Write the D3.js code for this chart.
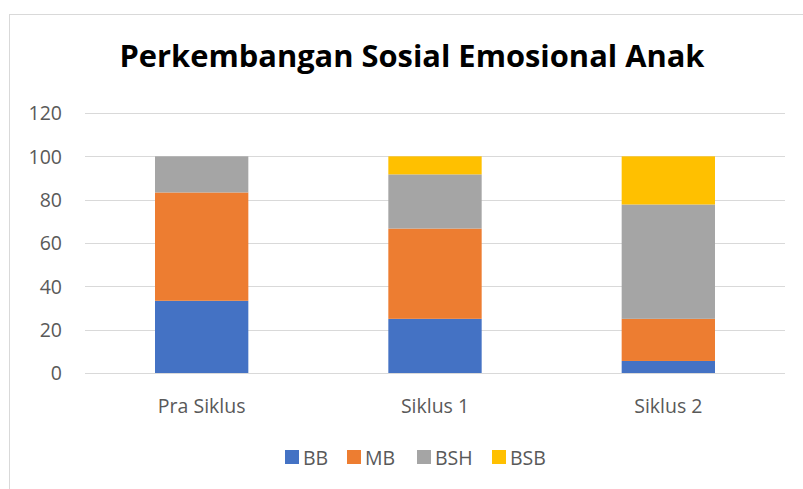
<!DOCTYPE html>
<html>
<head>
<meta charset="utf-8">
<script src="https://cdn.jsdelivr.net/npm/d3@7"></script>
<style>
  body { margin: 0; background: #fff; }
  svg text { font-family: "Open Sans", "Noto Sans", sans-serif; fill: #595959; }
</style>
</head>
<body>
<svg id="chart" width="803" height="489"></svg>
<script>
// chart data
var categories = ["Pra Siklus", "Siklus 1", "Siklus 2"];
var seriesNames = ["BB", "MB", "BSH", "BSB"];
var BB  = [33.33, 25, 5.56];
var MB  = [50, 41.67, 19.44];
var BSH = [16.67, 25, 52.78];
var BSB = [0, 8.33, 22.22];
var yTicks = [0, 20, 40, 60, 80, 100, 120];
var colors = ["#4472C4", "#ED7D31", "#A5A5A5", "#FFC000"];

var svg = d3.select("#chart");
var margin = {left: 85, right: 18, top: 113, bottom: 116};
var width = 803 - margin.left - margin.right;
var height = 489 - margin.top - margin.bottom;

// chart border (only left/top visible in the crop)
svg.append("rect")
    .attr("x", 9.5).attr("y", 14.5)
    .attr("width", 900).attr("height", 600)
    .attr("fill", "none").attr("stroke", "#D9D9D9");

svg.append("text")
    .attr("x", 412).attr("y", 67)
    .attr("text-anchor", "middle")
    .attr("textLength", 585)
    .attr("lengthAdjust", "spacingAndGlyphs")
    .style("font-size", "30px").style("font-weight", "bold").style("fill", "#000")
    .text("Perkembangan Sosial Emosional Anak");

var grp = svg.append("g")
    .attr("transform", "translate(" + margin.left + "," + margin.top + ")");

// build rows for the stack
var rows = categories.map(function(c, i) {
    return {cat: c, BB: BB[i], MB: MB[i], BSH: BSH[i], BSB: BSB[i]};
});
var stacked = d3.stack().keys(seriesNames)(rows);

var x = d3.scaleBand()
    .domain(categories)
    .range([0, width])
    .paddingInner(0.6)
    .paddingOuter(0.3);

var y = d3.scaleLinear().domain([0, 120]).range([height, 0]);

// gridlines
grp.append("g")
    .selectAll("line")
    .data(yTicks)
  .enter().append("line")
    .attr("x1", 0).attr("x2", width)
    .attr("y1", function(d) { return Math.round(y(d)) + 0.5; })
    .attr("y2", function(d) { return Math.round(y(d)) + 0.5; })
    .attr("stroke", "#D9D9D9").attr("stroke-width", 1);

// y axis labels
var yAxis = grp.append("g")
    .call(d3.axisLeft(y).tickValues(yTicks).tickSize(0).tickPadding(23));
yAxis.select(".domain").remove();
yAxis.selectAll("text").style("font-size", "19.5px").attr("dy", "0.35em");

// bars
grp.append("g")
    .selectAll("g")
    .data(stacked)
  .enter().append("g")
    .attr("fill", function(d, i) { return colors[i]; })
  .selectAll("rect")
    .data(function(d) { return d; })
  .enter().append("rect")
    .attr("x", function(d) { return x(d.data.cat); })
    .attr("y", function(d) { return y(d[1]); })
    .attr("width", x.bandwidth())
    .attr("height", function(d) { return y(d[0]) - y(d[1]); });

// category labels
grp.append("g")
    .selectAll("text")
    .data(categories)
  .enter().append("text")
    .attr("x", function(d) { return x(d) + x.bandwidth() / 2; })
    .attr("y", height + 40)
    .attr("text-anchor", "middle")
    .style("font-size", "19.5px")
    .text(function(d) { return d; });

// legend
var legendX = [285, 347, 417, 492];
var legend = svg.append("g").selectAll("g")
    .data(seriesNames)
  .enter().append("g")
    .attr("transform", function(d, i) { return "translate(" + legendX[i] + ",450)"; });
legend.append("rect")
    .attr("width", 14).attr("height", 14)
    .attr("fill", function(d, i) { return colors[i]; });
legend.append("text")
    .attr("x", 18).attr("y", 14.5)
    .style("font-size", "19.5px")
    .text(function(d) { return d; });
</script>
</body>
</html>
